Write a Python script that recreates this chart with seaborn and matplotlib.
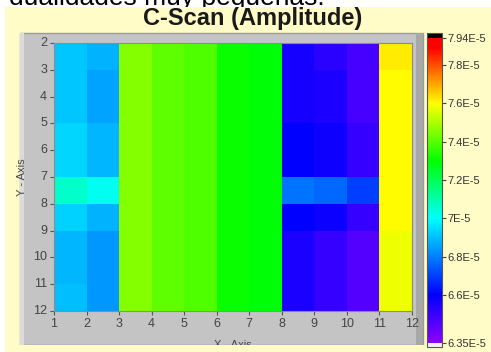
import numpy as np
import pandas as pd
import matplotlib
matplotlib.use("Agg")
import matplotlib.pyplot as plt
import seaborn as sns
from matplotlib.colors import LinearSegmentedColormap
from matplotlib.patches import Rectangle

# grid edges (axis labels)
x_edges = [1, 2, 3, 4, 5, 6, 7, 8, 9, 10, 11, 12]
y_edges = [2, 3, 4, 5, 6, 7, 8, 9, 10, 11, 12]

# amplitude per column (x = 1..11), rows y = 2..11, in units of 1E-5
col1 = [6.91, 6.91, 6.91, 6.94, 6.94, 7.06, 6.93, 6.89, 6.89, 6.90]
col2 = [6.88, 6.855, 6.855, 6.89, 6.89, 7.02, 6.88, 6.835, 6.835, 6.835]
col3 = [7.45, 7.45, 7.45, 7.45, 7.45, 7.45, 7.45, 7.45, 7.45, 7.45]
col4 = [7.41, 7.41, 7.41, 7.41, 7.41, 7.41, 7.41, 7.41, 7.41, 7.41]
col5 = [7.39, 7.39, 7.39, 7.39, 7.39, 7.39, 7.39, 7.39, 7.39, 7.39]
col6 = [7.31, 7.31, 7.31, 7.31, 7.31, 7.31, 7.31, 7.31, 7.31, 7.31]
col7 = [7.29, 7.29, 7.29, 7.29, 7.29, 7.29, 7.29, 7.29, 7.29, 7.29]
col8 = [6.563, 6.563, 6.563, 6.60, 6.60, 6.78, 6.60, 6.556, 6.556, 6.556]
col9 = [6.53, 6.554, 6.554, 6.577, 6.577, 6.76, 6.585, 6.51, 6.51, 6.51]
col10 = [6.477, 6.477, 6.477, 6.51, 6.51, 6.70, 6.51, 6.455, 6.455, 6.455]
col11 = [7.62, 7.60, 7.60, 7.60, 7.60, 7.60, 7.60, 7.575, 7.575, 7.575]

vmin, vmax = 6.35e-5, 7.94e-5
cbar_ticks = [6.35e-5, 6.6e-5, 6.8e-5, 7.0e-5, 7.2e-5, 7.4e-5, 7.6e-5, 7.8e-5, 7.94e-5]
cbar_labels = ["6.35E-5", "6.6E-5", "6.8E-5", "7E-5", "7.2E-5", "7.4E-5",
               "7.6E-5", "7.8E-5", "7.94E-5"]

cols = [col1, col2, col3, col4, col5, col6, col7, col8, col9, col10, col11]
grid = np.array(cols).T * 1e-5
df = pd.DataFrame(grid, index=y_edges[:-1], columns=x_edges[:-1])

# labview-like colour ramp
cmap = LinearSegmentedColormap.from_list("lv", [
    (0.0, (0.55, 0.0, 1.0)),
    (0.157, (0.0, 0.0, 1.0)),
    (0.409, (0.0, 1.0, 1.0)),
    (0.597, (0.0, 1.0, 0.0)),
    (0.786, (1.0, 1.0, 0.0)),
    (0.97, (1.0, 0.0, 0.0)),
    (1.0, (1.0, 0.0, 0.0)),
])
cmap.set_over("black")
cmap.set_under("#f2f2f2")

W, H = 491, 352
fig = plt.figure(figsize=(W / 100, H / 100), dpi=100)
fig.patch.set_facecolor("white")


def px(x0, y0, x1, y1):
    # pixel box (top-left origin) -> figure fraction rect
    return (x0 / W, 1 - y1 / H, (x1 - x0) / W, (y1 - y0) / H)


font = ["Liberation Sans", "DejaVu Sans"]

# cut-off line of text from the page above
fig.text(325 / W, 1 - 5 / H, "dualidades muy pequeñas.", ha="right", va="baseline",
         fontsize=19, family=font, color="black", zorder=-6)

# yellow panel and grey graph frame
r = px(5, 7, W, H)
fig.add_artist(Rectangle(r[:2], r[2], r[3], transform=fig.transFigure,
                         facecolor="#fffcc8", edgecolor="none", zorder=-5))
r = px(20, 33, 423, 345)
fig.add_artist(Rectangle(r[:2], r[2], r[3], transform=fig.transFigure,
                         facecolor="#c4c4c4", edgecolor="#9a9a9a", lw=1, zorder=-4))
r = px(20, 33, 24, 345)
fig.add_artist(Rectangle(r[:2], r[2], r[3], transform=fig.transFigure,
                         facecolor="#dcdcdc", edgecolor="none", zorder=-3))
r = px(416, 33, 423, 345)
fig.add_artist(Rectangle(r[:2], r[2], r[3], transform=fig.transFigure,
                         facecolor="#a8a8a8", edgecolor="none", zorder=-3))

ax = fig.add_axes(px(54, 43, 412, 311))
cax = fig.add_axes(px(427, 33, 442, 347))

sns.heatmap(df, cmap=cmap, vmin=vmin, vmax=vmax, ax=ax, cbar_ax=cax,
            cbar_kws=dict(extend="both", extendrect=True, extendfrac=[0.013, 0.017],
                          ticks=cbar_ticks))
cbar = ax.collections[0].colorbar

ax.set_xticks(range(len(x_edges)))
ax.set_xticklabels([str(v) for v in x_edges], rotation=0)
ax.set_yticks(range(len(y_edges)))
ax.set_yticklabels([str(v) for v in y_edges], rotation=0)
ax.tick_params(axis="both", length=3, width=0.8, color="#555555", labelsize=9,
               labelcolor="#444444", pad=2)
for lab in ax.get_xticklabels() + ax.get_yticklabels():
    lab.set_family(font)
for s in ax.spines.values():
    s.set_visible(True)
    s.set_color("#8c8c8c")
    s.set_linewidth(0.8)

ax.set_xlabel("X - Axis", fontsize=8, color="#444444", family=font)
ax.xaxis.set_label_coords(0.5, -0.108)
ax.set_ylabel("Y - Axis", fontsize=8, color="#444444", family=font)
ax.yaxis.set_label_coords(-0.075, 0.5)

cbar.set_ticks(cbar_ticks, labels=cbar_labels)
cax.tick_params(length=3, width=0.8, color="#444444", labelsize=8,
                labelcolor="#333333", pad=1)
for lab in cax.get_yticklabels():
    lab.set_family(font)
cbar.outline.set_edgecolor("#555555")
cbar.outline.set_linewidth(0.8)

# panel bottom hides the lower part of the x label
r = px(20, 345, 424, H)
fig.add_artist(Rectangle(r[:2], r[2], r[3], transform=fig.transFigure,
                         facecolor="#fffcc8", edgecolor="none", zorder=10))

fig.text(253 / W, 1 - 25 / H, "C-Scan (Amplitude)", ha="center", va="baseline",
         fontsize=17, fontweight="bold", family=font, color="#1a1a1a")

fig.savefig("out.png", dpi=100)
